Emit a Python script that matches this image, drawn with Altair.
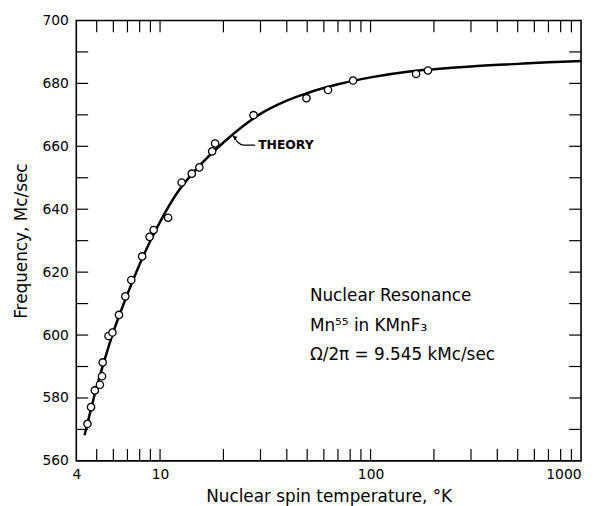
import altair as alt
import pandas as pd

# ---- data ----
obs_temp = [4.52, 4.70, 4.90, 5.18, 5.30, 5.34, 5.69, 5.94, 6.38, 6.84, 7.30, 8.22,
            8.92, 9.32, 10.92, 12.66, 14.15, 15.37, 17.68, 18.27, 27.8, 49.6, 62.8,
            82.6, 164.5, 187.3]
obs_freq = [571.8, 577.1, 582.4, 584.2, 586.9, 591.3, 599.7, 600.8, 606.4, 612.3, 617.5,
            625.0, 631.2, 633.4, 637.3, 648.5, 651.3, 653.3, 658.4, 660.9, 669.9, 675.3,
            677.9, 680.9, 683.0, 684.1]

theory_temp = [4.38, 4.6, 5, 5.5, 6, 7, 8, 9, 10, 12, 15, 20, 25, 30, 40, 50, 70,
               100, 150, 200, 300, 500, 700, 1000]
theory_freq = [568.2, 574.0, 583.5, 593.0, 601.0, 613.0, 622.5, 630.0, 636.0, 645.0,
               653.0, 661.2, 666.6, 670.3, 674.5, 676.9, 679.7, 681.9, 683.7, 684.5,
               685.4, 686.2, 686.7, 687.1]

x_tick_values = [5, 6, 7, 8, 9, 10, 20, 30, 40, 50, 60, 70, 80, 90, 100,
                 200, 300, 400, 500, 600, 700, 800, 900]
y_tick_values = [570, 580, 590, 600, 610, 620, 630, 640, 650, 660, 670, 680, 690]
x_label_values = [4, 10, 100, 1000]
y_label_values = [560, 580, 600, 620, 640, 660, 680, 700]

note_lines = ["Nuclear Resonance", "Mn\u2075\u2075 in KMnF\u2083", "\u03a9/2\u03c0 = 9.545 kMc/sec"]
note_temp = [51.5, 51.5, 51.5]
note_freq = [610.8, 601.3, 592.2]

leader_temp = [22.1, 23.5, 24.8, 28.3]
leader_freq = [663.6, 661.2, 660.4, 660.4]
arrow_temp = [22.6]
arrow_freq = [662.9]
theory_label = ["THEORY"]
theory_label_temp = [28.3]
theory_label_freq = [660.4]

# ---- chart ----
W, H = 510, 445
TICK = 12
FONT = "DejaVu Sans"

xs = alt.Scale(type="log", domain=[4, 1000], nice=False)
ys = alt.Scale(domain=[560, 700], nice=False, zero=False)

theory_df = pd.DataFrame({"T": theory_temp, "F": theory_freq})
obs_df = pd.DataFrame({"T": obs_temp, "F": obs_freq})
xt_df = pd.DataFrame({"T": x_tick_values})
yt_df = pd.DataFrame({"F": y_tick_values})
note_df = pd.DataFrame({"T": note_temp, "F": note_freq, "label": note_lines})
leader_df = pd.DataFrame({"T": leader_temp, "F": leader_freq, "i": list(range(len(leader_temp)))})
arrow_df = pd.DataFrame({"T": arrow_temp, "F": arrow_freq})
tl_df = pd.DataFrame({"T": theory_label_temp, "F": theory_label_freq, "label": theory_label})

x_axis = alt.Axis(values=x_label_values, title="Nuclear spin temperature, \u00b0K",
                  format="d", labelPadding=7, titlePadding=7,
                  labelAlign=alt.expr("datum.value >= 1000 ? 'right' : 'center'"))
y_axis = alt.Axis(values=y_label_values, title="Frequency, Mc/sec",
                  labelPadding=8, titlePadding=12)


def X():
    return alt.X("T:Q", scale=xs, axis=x_axis)


def Y():
    return alt.Y("F:Q", scale=ys, axis=y_axis)


line = alt.Chart(theory_df).mark_line(color="black", strokeWidth=2.5, interpolate="monotone").encode(
    x=X(), y=Y())

points = alt.Chart(obs_df).mark_point(shape="circle", filled=True, fill="white", stroke="black",
                                      strokeWidth=1.3, size=55, opacity=1).encode(x=X(), y=Y())

tick_style = dict(color="black", strokeWidth=1.2)
xb = alt.Chart(xt_df).mark_rule(**tick_style).encode(x=X(), y=alt.value(H), y2=alt.value(H - TICK))
xtp = alt.Chart(xt_df).mark_rule(**tick_style).encode(x=X(), y=alt.value(0), y2=alt.value(TICK))
yl = alt.Chart(yt_df).mark_rule(**tick_style).encode(y=Y(), x=alt.value(0), x2=alt.value(TICK))
yr = alt.Chart(yt_df).mark_rule(**tick_style).encode(y=Y(), x=alt.value(W), x2=alt.value(W - TICK))

notes = alt.Chart(note_df).mark_text(align="left", baseline="alphabetic", font=FONT,
                                     fontSize=17, color="black").encode(x=X(), y=Y(), text="label:N")

leader = alt.Chart(leader_df).mark_line(color="black", strokeWidth=1.3, interpolate="monotone").encode(
    x=X(), y=Y(), order="i:Q")
arrow = alt.Chart(arrow_df).mark_point(shape="triangle-up", angle=315, filled=True, color="black",
                                       size=22, opacity=1).encode(x=X(), y=Y())
tlabel = alt.Chart(tl_df).mark_text(align="left", baseline="middle", dx=3, font=FONT, fontSize=12.5,
                                    fontWeight="bold", color="black").encode(x=X(), y=Y(), text="label:N")

chart = alt.layer(line, xb, xtp, yl, yr, leader, arrow, tlabel, notes, points).properties(
    width=W, height=H, padding={"left": 4, "top": 3, "right": 0, "bottom": 0},
    background="white",
).configure_view(stroke="black", strokeWidth=1.6).configure_axis(
    labelFont=FONT, titleFont=FONT, labelFontSize=14, titleFontSize=17,
    titleFontWeight="normal", labelColor="black", titleColor="black",
    domain=False, ticks=False, grid=False,
)

chart.save("out.html", embed_options={"renderer": "svg", "actions": False})
